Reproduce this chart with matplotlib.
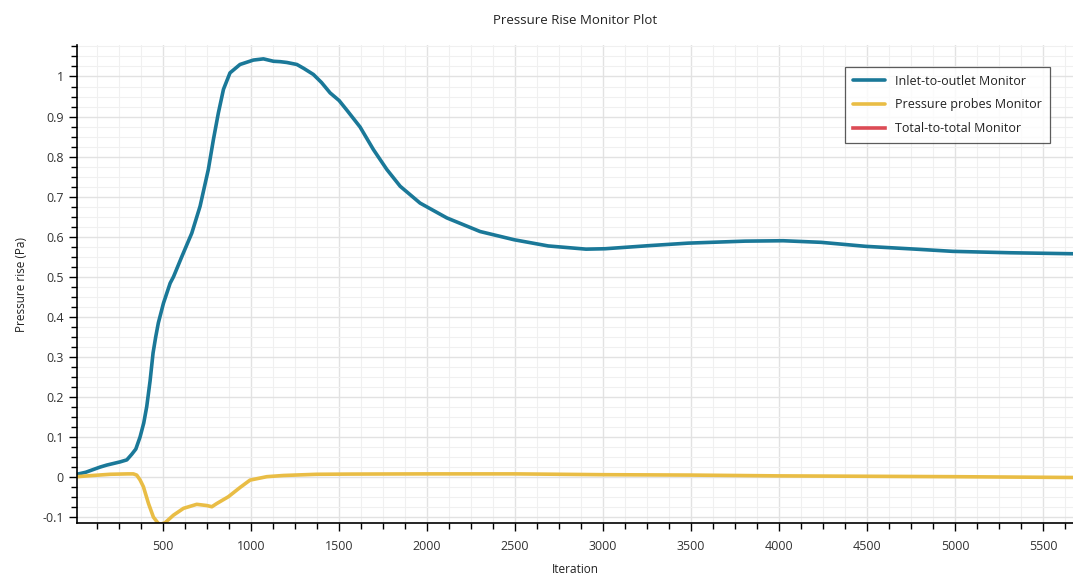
import numpy as np
import matplotlib.pyplot as plt
from matplotlib.ticker import MultipleLocator

plt.rcParams['font.family'] = ['Open Sans', 'DejaVu Sans']

# Inlet-to-outlet monitor
inlet_iter = [10, 60, 104, 142, 180, 256, 294, 322, 345, 369, 390, 407, 426,
              443, 458, 473, 502, 540, 559, 606, 663, 710, 757, 786, 814, 843,
              880, 937, 1013, 1070, 1127, 1165, 1203, 1260, 1300, 1354, 1400,
              1449, 1500, 1544, 1619, 1695, 1771, 1847, 1960, 2112, 2301, 2494,
              2688, 2903, 3011, 3270, 3483, 3807, 4023, 4239, 4492, 4776,
              4987, 5313, 5670]
inlet_val = [0.007, 0.012, 0.019, 0.025, 0.03, 0.038, 0.043, 0.057, 0.07,
             0.10, 0.135, 0.176, 0.24, 0.31, 0.35, 0.385, 0.434, 0.484, 0.50,
             0.55, 0.609, 0.676, 0.768, 0.843, 0.909, 0.968, 1.009, 1.03,
             1.041, 1.044, 1.038, 1.037, 1.035, 1.030, 1.02, 1.005, 0.985,
             0.959, 0.94, 0.916, 0.874, 0.8175, 0.768, 0.726, 0.684, 0.647,
             0.613, 0.5925, 0.577, 0.569, 0.57, 0.578, 0.584, 0.589, 0.59,
             0.586, 0.576, 0.569, 0.5635, 0.56, 0.5575]

# Pressure probes monitor
probe_iter = [10, 100, 199, 300, 331, 350, 369, 388, 417, 445, 473, 490, 511,
              559, 616, 691, 748, 777, 805, 871, 937, 994, 1089, 1184, 1373,
              1563, 2000, 2500, 3000, 3500, 4000, 4500, 5000, 5670]
probe_val = [0.001, 0.004, 0.007, 0.008, 0.008, 0.005, -0.007, -0.024, -0.066,
             -0.1, -0.116, -0.117, -0.114, -0.095, -0.078, -0.068, -0.071,
             -0.074, -0.066, -0.049, -0.026, -0.0075, 0.001, 0.004, 0.007,
             0.0075, 0.008, 0.008, 0.006, 0.005, 0.003, 0.002, 0.001, -0.001]

# Total-to-total monitor (no samples shown)
total_iter = []
total_val = []

fig = plt.figure(figsize=(10.73, 5.8), dpi=100)
ax = fig.add_axes([0.0718, 0.098, 0.9282, 0.824])

ax.plot(inlet_iter, inlet_val, color="#1a7898", lw=2.6,
        label="Inlet-to-outlet Monitor", solid_capstyle="round",
        solid_joinstyle="round")
ax.plot(probe_iter, probe_val, color="#e9bd45", lw=2.6,
        label="Pressure probes Monitor", solid_capstyle="round",
        solid_joinstyle="round")
ax.plot(total_iter, total_val, color="#dc4b55", lw=2.6,
        label="Total-to-total Monitor")

ax.set_xlim(11, 5670)
ax.set_ylim(-0.115, 1.078)

ax.xaxis.set_major_locator(MultipleLocator(500))
ax.xaxis.set_minor_locator(MultipleLocator(125))
ax.yaxis.set_major_locator(MultipleLocator(0.1))
ax.yaxis.set_minor_locator(MultipleLocator(0.025))
ax.yaxis.set_major_formatter(lambda v, p: "0" if abs(v) < 1e-9 else
                             ("1" if abs(v - 1) < 1e-9 else f"{v:.1f}"))

ax.grid(which="major", color="#e2e2e2", lw=1.0)
ax.grid(which="minor", color="#f0f0f0", lw=0.8)
ax.set_axisbelow(True)

for s in ["top", "right"]:
    ax.spines[s].set_visible(False)
for s in ["left", "bottom"]:
    ax.spines[s].set_color("black")
    ax.spines[s].set_linewidth(1.2)

ax.tick_params(which="major", length=6, width=1, color="black",
               labelsize=9, labelcolor="#333333")
ax.tick_params(which="minor", length=4, width=1, color="black")
ax.tick_params(axis="x", pad=6)

ax.set_title("Pressure Rise Monitor Plot", fontsize=9.5, color="#222222", pad=15)
ax.set_xlabel("Iteration", fontsize=8.5, color="#222222", labelpad=7)
ax.set_ylabel("Pressure rise (Pa)", fontsize=8.5, color="#222222", labelpad=10)

leg = ax.legend(loc="upper right", bbox_to_anchor=(0.983, 0.967), fontsize=9,
                frameon=True, fancybox=False, edgecolor="#333333",
                handlelength=2.6, borderpad=0.6, labelspacing=0.85,
                labelcolor="#222222")
leg.get_frame().set_linewidth(0.9)

fig.savefig("out.png", dpi=100)
